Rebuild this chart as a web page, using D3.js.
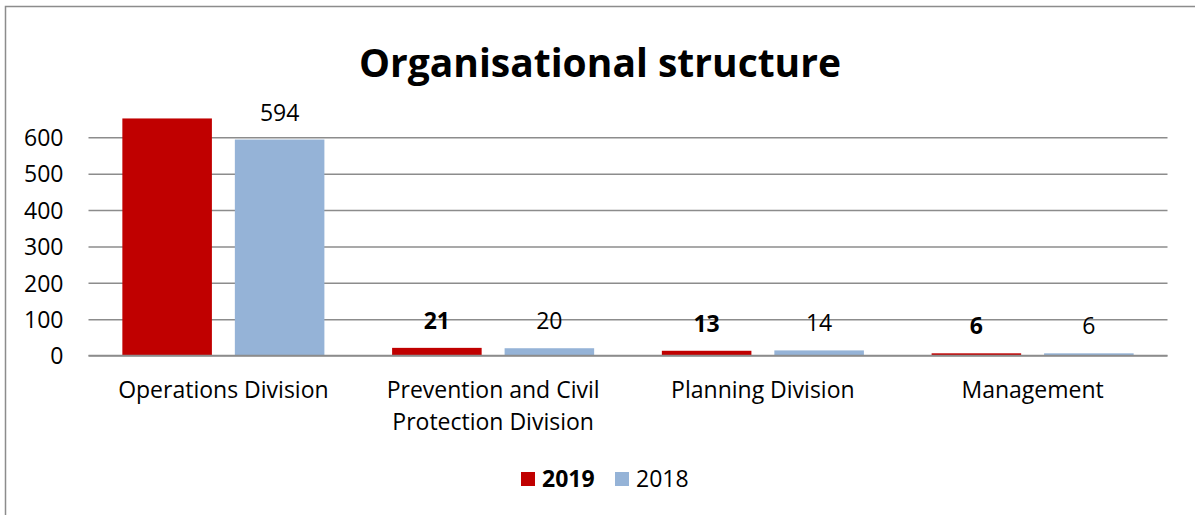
<!DOCTYPE html>
<html>
<head>
<meta charset="utf-8">
<script src="https://cdn.jsdelivr.net/npm/d3@7"></script>
<style>
  html, body { margin: 0; padding: 0; background: #fff; }
  svg { display: block; }
  text { font-family: "Open Sans", Lato, sans-serif; fill: #000; }
</style>
</head>
<body>
<svg id="chart" width="1195" height="515"></svg>
<script>
// Staff per organisational unit, 2019 vs 2018
const categories = [
  ["Operations Division"],
  ["Prevention and Civil", "Protection Division"],
  ["Planning Division"],
  ["Management"]
];
const seriesNames = ["2019", "2018"];
const values2019 = [652, 21, 13, 6];
const values2018 = [594, 20, 14, 6];
const showLabel2019 = [false, true, true, true];
const yTicks = [0, 100, 200, 300, 400, 500, 600];

const colors = { "2019": "#c00000", "2018": "#95b3d7" };
const FS = 23;

const svg = d3.select("#chart");
const W = 1195, H = 515;

// outer frame
svg.append("rect")
  .attr("x", 5.5).attr("y", 6.5)
  .attr("width", W + 10).attr("height", H + 10)
  .attr("fill", "none").attr("stroke", "#8c8c8c").attr("stroke-width", 1.5);

// title
svg.append("text")
  .attr("x", 600).attr("y", 77)
  .attr("text-anchor", "middle")
  .style("font-size", "39px").style("font-weight", "bold")
  .text("Organisational structure");

const plot = { left: 88.5, right: 1167.5, top: 101, bottom: 355.5 };

const y = d3.scaleLinear().domain([0, 700]).range([plot.bottom, plot.top]);
const x0 = d3.scaleBand()
  .domain(d3.range(categories.length))
  .range([plot.left, plot.right])
  .paddingInner(0.251).paddingOuter(0.1255);
const x1 = d3.scaleBand()
  .domain(seriesNames)
  .range([0, x0.bandwidth()])
  .paddingInner(0.204);

// gridlines
const grid = svg.append("g")
  .attr("transform", `translate(${plot.left},0)`)
  .call(d3.axisLeft(y).tickValues(yTicks).tickSize(-(plot.right - plot.left)).tickFormat(""));
grid.select(".domain").remove();
grid.selectAll("line").attr("stroke", "#8c8c8c").attr("stroke-width", 1.5);

// y tick labels
const yAxis = svg.append("g")
  .attr("transform", `translate(${plot.left},0)`)
  .call(d3.axisLeft(y).tickValues(yTicks).tickSize(0).tickPadding(25));
yAxis.select(".domain").remove();
yAxis.selectAll("text")
  .style("font-size", FS + "px").style("font-family", "'Open Sans', sans-serif")
  .attr("fill", "#000").attr("dy", "0.36em");

const rows = categories.map((c, i) => ({
  i,
  bars: [
    { key: "2019", v: values2019[i], label: showLabel2019[i] },
    { key: "2018", v: values2018[i], label: true }
  ]
}));

const groups = svg.append("g").selectAll("g")
  .data(rows).join("g")
  .attr("transform", d => `translate(${x0(d.i)},0)`);

groups.selectAll("rect")
  .data(d => d.bars).join("rect")
  .attr("x", d => x1(d.key))
  .attr("y", d => y(d.v))
  .attr("width", x1.bandwidth())
  .attr("height", d => y(0) - y(d.v))
  .attr("fill", d => colors[d.key]);

groups.selectAll("text.val")
  .data(d => d.bars.filter(b => b.label)).join("text")
  .attr("class", "val")
  .attr("x", d => x1(d.key) + x1.bandwidth() / 2)
  .attr("y", d => y(d.v) - 19)
  .attr("text-anchor", "middle")
  .style("font-size", FS + "px")
  .style("font-weight", d => d.key === "2019" ? "bold" : "normal")
  .text(d => d.v);

// baseline
svg.append("line")
  .attr("x1", plot.left).attr("x2", plot.right)
  .attr("y1", y(0)).attr("y2", y(0))
  .attr("stroke", "#8c8c8c").attr("stroke-width", 1.5);

// category labels
const catLabels = svg.append("g").selectAll("text")
  .data(categories).join("text")
  .attr("x", (d, i) => x0(i) + x0.bandwidth() / 2)
  .attr("y", 398)
  .attr("text-anchor", "middle")
  .style("font-size", FS + "px");
catLabels.selectAll("tspan")
  .data(d => d).join("tspan")
  .attr("x", function () { return this.parentNode.getAttribute("x"); })
  .attr("dy", (d, j) => j === 0 ? 0 : 32)
  .text(d => d);

// legend
const legend = svg.append("g");
const legendItems = [
  { key: "2019", x: 521, bold: true },
  { key: "2018", x: 615, bold: false }
];
legendItems.forEach(it => {
  legend.append("rect")
    .attr("x", it.x).attr("y", 472)
    .attr("width", 14).attr("height", 14)
    .attr("fill", colors[it.key]);
  legend.append("text")
    .attr("x", it.x + 21).attr("y", 487)
    .style("font-size", FS + "px")
    .style("font-weight", it.bold ? "bold" : "normal")
    .text(it.key);
});
</script>
</body>
</html>
